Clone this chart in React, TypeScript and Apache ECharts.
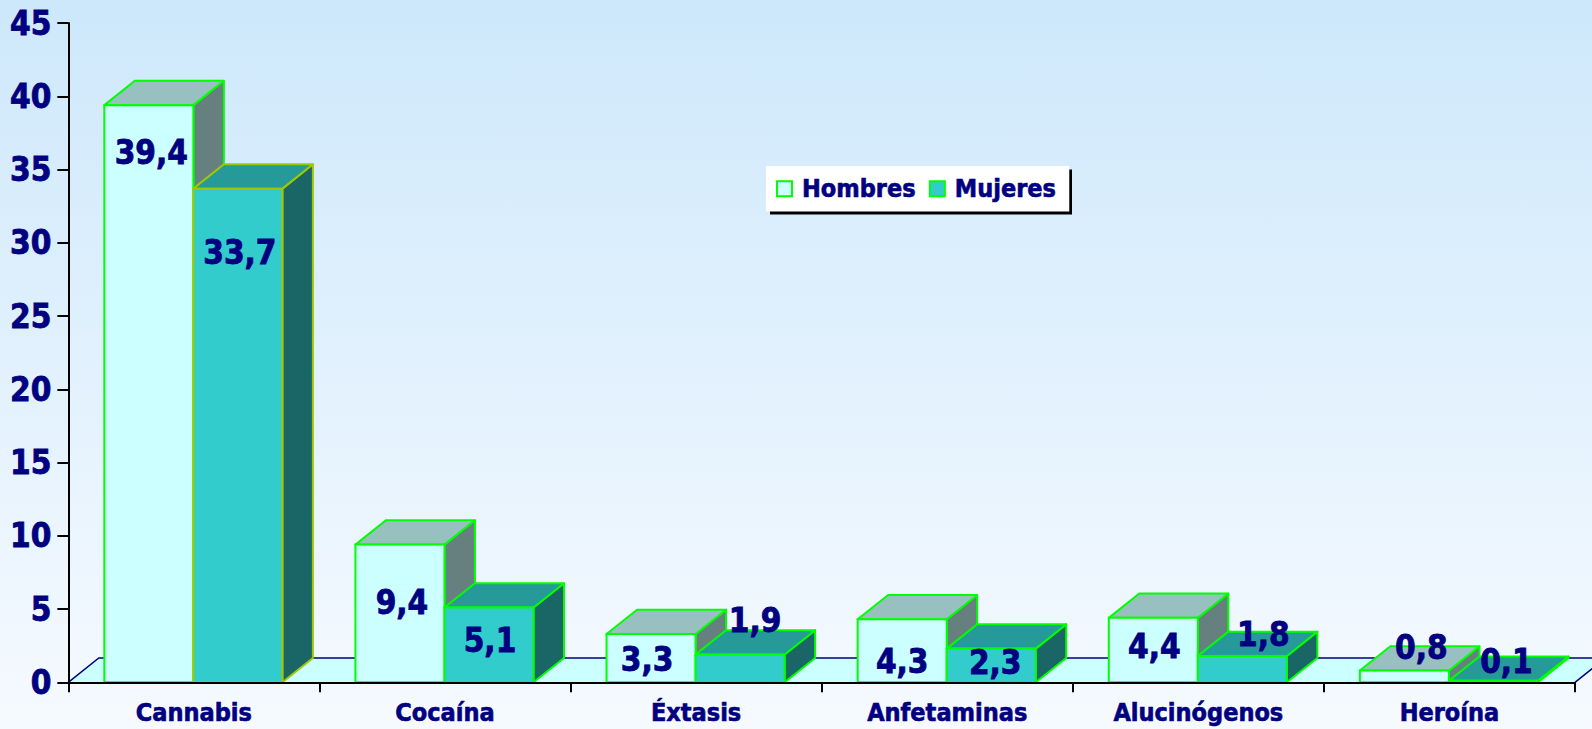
import React, { useEffect, useRef } from "react";
import * as echarts from "echarts";

// ---------- data ----------
const categories = ["Cannabis", "Cocaína", "Éxtasis", "Anfetaminas", "Alucinógenos", "Heroína"];
const hombres = [39.4, 9.4, 3.3, 4.3, 4.4, 0.8];
const mujeres = [33.7, 5.1, 1.9, 2.3, 1.8, 0.1];
const yMin = 0;
const yMax = 45;
const yStep = 5;

// ---------- layout / style ----------
const FONT = "'DejaVu Sans Condensed', 'DejaVu Sans', Verdana, sans-serif";
const NAVY = "#000080";
const BOLDEN = 0.8;
const GAP_RATIO = 36 / 251;
const BAR_RATIO = 89 / 251;
const DEPTH_X = 30.5;
const DEPTH_Y = 24.3;
// label nudges (px) relative to front-face centre / top edge
const labelNudgeH = [[2.5, 47], [2, 58], [-4, 25.7], [0, 42.5], [1, 29], [17, -22.7]];
const labelNudgeM = [[2, 63.4], [1, 32.7], [15, -34], [4, 13.5], [21, -21], [13, -19.5]];

const hombresStyle = { front: "#ccffff", top: "#99c0c0", side: "#668080" };
const mujeresStyle = { front: "#33cccc", top: "#269999", side: "#1a6666" };
const hombresBorder = (_i: number) => "#00ff00";
const mujeresBorder = (i: number) => (i === 0 ? "#a0c800" : "#00ff00");

function makeBarRender(k: number, colors: any, nudges: number[][], borderFn: (i: number) => string) {
  return (params: any, api: any) => {
    const idx = api.value(0);
    const v = api.value(1);
    const base = api.coord([idx, 0]);
    const top = api.coord([idx, v]);
    const band = api.size([1, 0])[0];
    const bw = band * BAR_RATIO;
    const x0 = base[0] - band / 2 + band * GAP_RATIO + k * bw;
    const yb = base[1];
    const yt = top[1];
    const dx = DEPTH_X;
    const dy = DEPTH_Y;
    const stroke = borderFn(idx);
    const lw = 2;
    const n = nudges[idx] || [0, 0];
    return {
      type: "group",
      children: [
        {
          type: "polygon",
          shape: { points: [[x0 + bw, yt], [x0 + bw + dx, yt - dy], [x0 + bw + dx, yb - dy], [x0 + bw, yb]] },
          style: { fill: colors.side, stroke, lineWidth: lw, lineJoin: "round" },
        },
        {
          type: "polygon",
          shape: { points: [[x0, yt], [x0 + dx, yt - dy], [x0 + bw + dx, yt - dy], [x0 + bw, yt]] },
          style: { fill: colors.top, stroke, lineWidth: lw, lineJoin: "round" },
        },
        {
          type: "rect",
          shape: { x: x0, y: yt, width: bw, height: Math.max(yb - yt, 0) },
          style: { fill: colors.front, stroke, lineWidth: lw },
        },
        {
          type: "text",
          x: x0 + bw / 2 + n[0],
          y: yt + n[1],
          z2: 20,
          style: {
            text: v.toFixed(1).replace(".", ","),
            fill: NAVY,
            fontSize: 33,
            fontWeight: "bold",
            fontFamily: FONT,
            align: "center",
            verticalAlign: "middle",
            stroke: NAVY,
            lineWidth: BOLDEN,
          },
        },
      ],
    };
  };
}

function floorRender(params: any, _api: any) {
  const cs = params.coordSys;
  const yb = cs.y + cs.height;
  const x0 = cs.x;
  const x1 = cs.x + cs.width;
  const pts = [[x0, yb], [x0 + DEPTH_X, yb - DEPTH_Y], [x1 + DEPTH_X, yb - DEPTH_Y], [x1, yb]];
  return {
    type: "group",
    children: [
      { type: "polygon", shape: { points: pts }, style: { fill: "#ccffff" } },
      { type: "polyline", shape: { points: pts }, style: { fill: "none", stroke: NAVY, lineWidth: 1.5 } },
    ],
  };
}

export default function App() {
  const ref = useRef<HTMLDivElement>(null);
  useEffect(() => {
    document.body.style.margin = "0";
    if (!ref.current) return;
    const chart = echarts.init(ref.current, null, { renderer: "svg" });
    chart.setOption({
      animation: false,
      backgroundColor: new echarts.graphic.LinearGradient(0, 0, 0, 1, [
        { offset: 0, color: "#cde8fb" },
        { offset: 1, color: "#f6faff" },
      ]),
      grid: { left: 68.3, right: 17, top: 23.1, bottom: 46.7, containLabel: false },
      legend: {
        left: 766,
        top: 166,
        orient: "horizontal",
        backgroundColor: "#ffffff",
        padding: [10, 13, 10, 10],
        itemGap: 13,
        itemWidth: 15,
        itemHeight: 15,
        selectedMode: false,
        z: 10,
        textStyle: {
          color: NAVY, fontSize: 25, fontWeight: "bold", fontFamily: FONT, lineHeight: 25,
          padding: [0, 0, 0, 5], textBorderColor: NAVY, textBorderWidth: 0.6,
        },
        data: [
          { name: "Hombres", icon: "rect", itemStyle: { color: hombresStyle.front, borderColor: "#00ff00", borderWidth: 2 } },
          { name: "Mujeres", icon: "rect", itemStyle: { color: mujeresStyle.front, borderColor: "#00ff00", borderWidth: 2 } },
        ],
      },
      graphic: [
        { type: "rect", z: 5, shape: { x: 770, y: 169.5, width: 302, height: 45 }, style: { fill: "#000000" } },
      ],
      xAxis: {
        type: "category",
        data: categories,
        z: 6,
        axisLine: { show: true, lineStyle: { color: "#000000", width: 2 } },
        axisTick: { show: true, length: 10, interval: 0, alignWithLabel: false, lineStyle: { color: "#000000", width: 2 } },
        axisLabel: {
          interval: 0, margin: 20, color: NAVY, fontSize: 25, fontWeight: "bold", fontFamily: FONT, lineHeight: 20,
          textBorderColor: NAVY, textBorderWidth: 0.6,
        },
        splitLine: { show: false },
      },
      yAxis: {
        type: "value",
        min: yMin,
        max: yMax,
        interval: yStep,
        z: 6,
        axisLine: { show: true, lineStyle: { color: "#000000", width: 2 } },
        axisTick: { show: true, length: 11, lineStyle: { color: "#000000", width: 2 } },
        axisLabel: {
          margin: 17, color: NAVY, fontSize: 33, fontWeight: "bold", fontFamily: FONT,
          textBorderColor: NAVY, textBorderWidth: BOLDEN,
        },
        splitLine: { show: false },
      },
      series: [
        {
          type: "custom",
          name: "floor",
          z: 1,
          silent: true,
          renderItem: floorRender,
          data: [[0, 0]],
          encode: { x: 0, y: 1 },
        },
        {
          type: "custom",
          name: "Hombres",
          z: 2,
          itemStyle: { color: hombresStyle.front },
          renderItem: makeBarRender(0, hombresStyle, labelNudgeH, hombresBorder),
          data: hombres.map((v, i) => [i, v]),
          encode: { x: 0, y: 1 },
        },
        {
          type: "custom",
          name: "Mujeres",
          z: 3,
          itemStyle: { color: mujeresStyle.front },
          renderItem: makeBarRender(1, mujeresStyle, labelNudgeM, mujeresBorder),
          data: mujeres.map((v, i) => [i, v]),
          encode: { x: 0, y: 1 },
        },
      ],
    });
    return () => chart.dispose();
  }, []);
  return <div ref={ref} style={{ width: 1592, height: 729 }} />;
}
